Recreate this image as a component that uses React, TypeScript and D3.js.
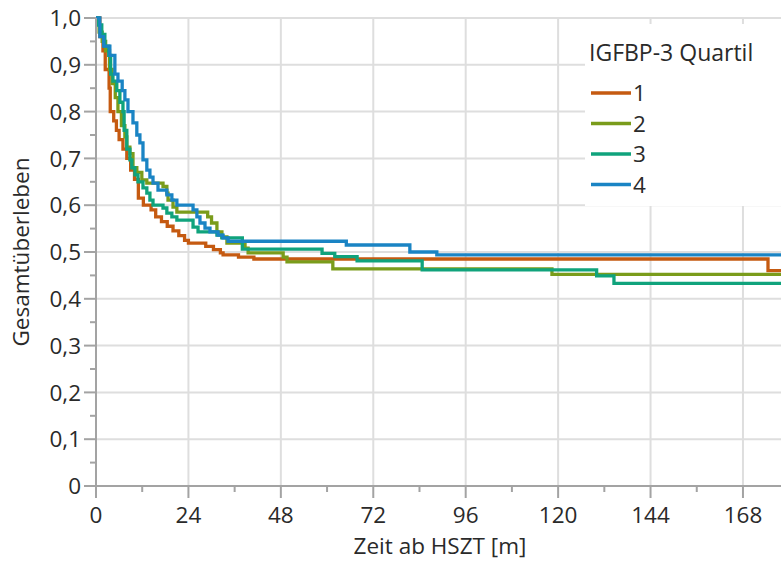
import { useRef, useEffect } from "react";
import * as d3 from "d3";

// Kaplan-Meier curves, survival after each step (month where the step happens)
const quartiles = ["1", "2", "3", "4"];
const colors = ["#c55a11", "#7a9c1b", "#10a37c", "#1a84c4"];

const q1Months = [0, 1.0, 1.8, 2.4, 3.4, 3.7, 4.6, 5.3, 6.0, 7.0, 8.0, 9.0, 10.0, 11.0, 12.3, 14.3, 15.5, 17.0, 18.5, 20.0, 21.5, 23.0, 24.0, 28.5, 30.5, 32.3, 33.0, 37.0, 41.0, 174.5, 180];
const q1Surv = [1, 0.96, 0.93, 0.89, 0.85, 0.8, 0.78, 0.76, 0.74, 0.72, 0.7, 0.675, 0.655, 0.615, 0.6, 0.59, 0.575, 0.565, 0.555, 0.545, 0.535, 0.525, 0.519, 0.512, 0.505, 0.498, 0.494, 0.489, 0.485, 0.46, 0.46];

const q2Months = [0, 0.8, 1.6, 2.5, 3.5, 4.2, 5.0, 5.7, 6.6, 7.5, 8.0, 8.8, 9.6, 10.6, 11.9, 13.2, 17.4, 18.4, 18.7, 20.0, 21.0, 29.0, 30.0, 31.4, 32.7, 34.0, 38.7, 39.5, 48.6, 49.6, 61.5, 118.4, 180];
const q2Surv = [1, 0.97, 0.95, 0.93, 0.89, 0.86, 0.83, 0.8, 0.77, 0.746, 0.724, 0.71, 0.68, 0.67, 0.654, 0.647, 0.64, 0.626, 0.611, 0.596, 0.585, 0.575, 0.562, 0.543, 0.532, 0.519, 0.508, 0.498, 0.489, 0.479, 0.464, 0.452, 0.452];

const q3Months = [0, 0.6, 1.5, 2.3, 3.3, 3.8, 4.4, 5.4, 6.2, 7.0, 7.3, 8.0, 8.8, 9.3, 10.1, 10.9, 12.2, 13.2, 14.0, 14.8, 17.4, 18.4, 19.7, 21.0, 25.2, 26.5, 31.4, 32.7, 38.0, 58.7, 62.0, 67.8, 84.7, 130.0, 134.5, 180];
const q3Surv = [1, 0.985, 0.965, 0.94, 0.92, 0.88, 0.865, 0.845, 0.82, 0.8, 0.76, 0.72, 0.697, 0.68, 0.665, 0.65, 0.637, 0.626, 0.611, 0.6, 0.594, 0.583, 0.575, 0.568, 0.553, 0.543, 0.536, 0.53, 0.506, 0.497, 0.49, 0.481, 0.462, 0.449, 0.433, 0.433];

const q4Months = [0, 1.0, 2.0, 3.6, 4.9, 5.7, 6.8, 7.5, 8.3, 9.6, 10.6, 11.4, 12.2, 13.2, 14.0, 14.8, 16.1, 18.4, 19.7, 21.0, 25.2, 26.2, 27.0, 28.3, 29.6, 31.7, 33.0, 34.3, 65.0, 81.5, 88.5, 180];
const q4Surv = [1, 0.96, 0.94, 0.92, 0.88, 0.865, 0.845, 0.825, 0.8, 0.776, 0.75, 0.733, 0.697, 0.675, 0.66, 0.647, 0.632, 0.622, 0.611, 0.6, 0.59, 0.575, 0.562, 0.551, 0.543, 0.536, 0.53, 0.523, 0.515, 0.5, 0.494, 0.494];

const xTicks = [0, 24, 48, 72, 96, 120, 144, 168];
const yTicks = [0, 0.1, 0.2, 0.3, 0.4, 0.5, 0.6, 0.7, 0.8, 0.9, 1.0];

const FONT = "'Open Sans', 'Noto Sans', sans-serif";
const FS = 22.5;

function App() {
  const svgRef = useRef<SVGSVGElement>(null);

  useEffect(() => {
    const w = 781;
    const h = 563;
    const svg = d3.select(svgRef.current);
    svg.selectAll("*").remove();
    svg.attr("width", w).attr("height", h).style("background", "#fff");

    const left = 96;
    const top = 18;
    const bottom = 486;

    const x = d3.scaleLinear().domain([0, 180]).range([left, left + 180 * 3.851]);
    const y = d3.scaleLinear().domain([0, 1]).range([bottom, top]);

    const series = [
      { months: q1Months, surv: q1Surv },
      { months: q2Months, surv: q2Surv },
      { months: q3Months, surv: q3Surv },
      { months: q4Months, surv: q4Surv },
    ];

    // grid
    svg.append("g")
      .selectAll("line")
      .data(xTicks.slice(1))
      .join("line")
      .attr("x1", d => x(d)).attr("x2", d => x(d))
      .attr("y1", top).attr("y2", bottom)
      .attr("stroke", "#dedede").attr("stroke-width", 2);
    svg.append("g")
      .selectAll("line")
      .data(yTicks.slice(1))
      .join("line")
      .attr("x1", left).attr("x2", w)
      .attr("y1", d => y(d)).attr("y2", d => y(d))
      .attr("stroke", "#dedede").attr("stroke-width", 2);

    // curves
    const line = d3.line<[number, number]>()
      .x(d => x(d[0]))
      .y(d => y(d[1]))
      .curve(d3.curveStepAfter);

    svg.append("g")
      .selectAll("path")
      .data(series)
      .join("path")
      .attr("d", s => line(s.months.map((m, i) => [m, s.surv[i]] as [number, number])))
      .attr("fill", "none")
      .attr("stroke", (s, i) => colors[i])
      .attr("stroke-width", 3.3);

    // axes
    const axisColor = "#a3a3a3";
    svg.append("line")
      .attr("x1", left).attr("x2", left).attr("y1", top).attr("y2", bottom)
      .attr("stroke", axisColor).attr("stroke-width", 2);
    svg.append("line")
      .attr("x1", left - 12).attr("x2", w).attr("y1", bottom).attr("y2", bottom)
      .attr("stroke", axisColor).attr("stroke-width", 2);

    const xMinor = d3.range(12, 180, 24);
    svg.append("g").selectAll("line").data(xTicks).join("line")
      .attr("x1", d => x(d)).attr("x2", d => x(d))
      .attr("y1", bottom).attr("y2", bottom + 12)
      .attr("stroke", axisColor).attr("stroke-width", 2);
    svg.append("g").selectAll("line").data(xMinor).join("line")
      .attr("x1", d => x(d)).attr("x2", d => x(d))
      .attr("y1", bottom).attr("y2", bottom + 6)
      .attr("stroke", axisColor).attr("stroke-width", 2);

    const yMinor = d3.range(0.05, 1, 0.1);
    svg.append("g").selectAll("line").data(yTicks).join("line")
      .attr("x1", left - 12).attr("x2", left)
      .attr("y1", d => y(d)).attr("y2", d => y(d))
      .attr("stroke", axisColor).attr("stroke-width", 2);
    svg.append("g").selectAll("line").data(yMinor).join("line")
      .attr("x1", left - 6).attr("x2", left)
      .attr("y1", d => y(d)).attr("y2", d => y(d))
      .attr("stroke", axisColor).attr("stroke-width", 2);

    const textColor = "#2a2a2a";
    svg.append("g").selectAll("text").data(xTicks).join("text")
      .attr("x", d => x(d)).attr("y", 523)
      .attr("text-anchor", "middle")
      .attr("font-family", FONT).attr("font-size", FS).attr("fill", textColor)
      .text(d => String(d));
    svg.append("g").selectAll("text").data(yTicks).join("text")
      .attr("x", 81).attr("y", d => y(d)).attr("dy", "0.36em")
      .attr("text-anchor", "end")
      .attr("font-family", FONT).attr("font-size", FS).attr("fill", textColor)
      .text(d => (d === 0 ? "0" : d.toFixed(1).replace(".", ",")));

    svg.append("text")
      .attr("x", 440).attr("y", 554)
      .attr("text-anchor", "middle")
      .attr("font-family", FONT).attr("font-size", FS).attr("fill", textColor)
      .text("Zeit ab HSZT [m]");
    svg.append("text")
      .attr("transform", `translate(29, ${(top + bottom) / 2}) rotate(-90)`)
      .attr("text-anchor", "middle")
      .attr("font-family", FONT).attr("font-size", FS).attr("fill", textColor)
      .text("Gesamtüberleben");

    // legend
    const lg = svg.append("g");
    lg.append("rect")
      .attr("x", 585).attr("y", 24).attr("width", w - 585).attr("height", 182)
      .attr("fill", "#fff");
    lg.append("text")
      .attr("x", 589).attr("y", 61)
      .attr("font-family", FONT).attr("font-size", 23).attr("fill", textColor)
      .text("IGFBP-3 Quartil");
    const items = lg.selectAll("g.item").data(quartiles).join("g")
      .attr("transform", (d, i) => `translate(0, ${93 + i * 30.5})`);
    items.append("line")
      .attr("x1", 591).attr("x2", 631).attr("y1", 0).attr("y2", 0)
      .attr("stroke", (d, i) => colors[i]).attr("stroke-width", 3.3);
    items.append("text")
      .attr("x", 633).attr("y", 0).attr("dy", "0.36em")
      .attr("font-family", FONT).attr("font-size", FS).attr("fill", textColor)
      .text(d => d);
  }, []);

  return (
    <svg
      ref={svgRef}
      style={{ position: "absolute", left: 0, top: 0, display: "block" }}
    ></svg>
  );
}

export default App;
